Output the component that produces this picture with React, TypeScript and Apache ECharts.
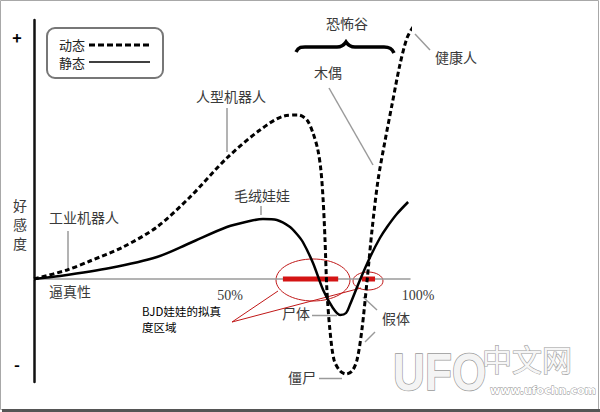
import React, { useEffect, useRef } from "react";
import * as echarts from "echarts";

// x: realism (%), y: affinity (arbitrary units)
const xTickValues = [0, 50, 100];
const xTickLabels = ["", "50%", "100%"];

const dynamicCurve: [number, number][] = [
  [0, 0], [8.8, 3.6], [14.9, 7.2], [23.7, 12.8], [32.7, 20.8], [41.5, 32.8],
  [51.3, 48.4], [60.1, 59.6], [66.5, 65.2], [70.3, 65.6], [72.6, 63.6],
  [74.2, 58.4], [75.5, 51.6], [76.3, 43.6], [76.9, 31.6], [77.4, 15.6],
  [77.9, -4.4], [78.7, -20.4], [79.8, -32.4], [81.4, -36.8], [83.0, -38],
  [84.6, -36.8], [85.9, -32.4], [87.2, -20.4], [88.6, -0.4], [89.9, 19.6],
  [91.5, 39.6], [93.4, 55.6], [95.2, 69.6], [97.3, 85.6], [99.2, 96.4], [100.8, 100.8],
];

const staticCurve: [number, number][] = [
  [0, 0], [6.9, 1.2], [20.2, 4.4], [32.7, 8.8], [41.5, 14.4], [51.3, 20.8],
  [57.4, 23.2], [60.9, 24], [64.6, 23.6], [68.1, 20.8], [69.9, 18], [71.5, 14.8],
  [74.2, 6.4], [76.9, -4.4], [79.5, -11.6], [81.4, -14.4], [83.0, -13.6],
  [84.0, -10.4], [86.7, -0.4], [89.4, 8.8], [92.0, 16.4], [93.9, 20.8],
  [96.5, 26], [99.5, 30.8],
];

const bjdRangeMain: [number, number][] = [[66.2, 0], [80.9, 0]];
const bjdRangeSmall: [number, number][] = [[87.2, 0], [90.7, 0]];

const seriesNames = ["动态", "静态"];

const Y_MIN = -41.2;
const Y_MAX = 103.6;

const CJK = '"Noto Sans CJK SC", "Noto Sans", sans-serif';
const TXT = "#3a3a3a";
const LEAD = "#9a9a9a";

function label(text: string, x: number, y: number, size = 14, extra: any = {}) {
  return {
    type: "text",
    x,
    y,
    style: {
      text,
      fill: TXT,
      font: `${size}px ${CJK}`,
      textAlign: "center",
      verticalAlign: "middle",
      ...extra,
    },
  };
}

function lead(x1: number, y1: number, x2: number, y2: number, color = LEAD, w = 1.5) {
  return {
    type: "line",
    shape: { x1, y1, x2, y2 },
    style: { stroke: color, lineWidth: w },
  };
}

export default function App() {
  const ref = useRef<HTMLDivElement>(null);

  useEffect(() => {
    echarts.graphic.registerShape(
      "brace",
      echarts.graphic.extendPath(
        "M0,10 C3,4 7,5 12,5 L41,5 C46,5 48,3 50,0 C52,3 54,5 59,5 L88,5 C93,5 96,6 98,11",
        {}
      )
    );
    const chart = echarts.init(ref.current!, null, { renderer: "svg" });

    const gridTop = 20;
    const gridBottom = 30;
    const plotH = 412 - gridTop - gridBottom;
    // shift the x axis (line + labels) up to y = 0
    const zeroOffset = -(plotH * (0 - Y_MIN)) / (Y_MAX - Y_MIN);

    const graphic: any[] = [
      // frame
      { type: "rect", shape: { x: 0.5, y: 0.5, width: 598, height: 409 }, style: { fill: "none", stroke: "#a8a8a8", lineWidth: 1 } },
      lead(2, 410.5, 600, 410.5, "#555", 3),
      // legend box
      { type: "rect", shape: { x: 47, y: 28, width: 116, height: 50, r: 8 }, style: { fill: "#fff", stroke: "#777", lineWidth: 2 } },
      label(seriesNames[0], 72, 44, 13, { fill: "#222" }),
      label(seriesNames[1], 72, 62, 13, { fill: "#222" }),
      { type: "line", shape: { x1: 89, y1: 45, x2: 150, y2: 45 }, style: { stroke: "#000", lineWidth: 3, lineDash: [6, 3] } },
      { type: "line", shape: { x1: 89, y1: 62, x2: 150, y2: 62 }, style: { stroke: "#000", lineWidth: 1.5 } },
      // axis marks
      label("+", 17, 37, 16, { fill: "#000", font: `bold 16px ${CJK}` }),
      label("-", 17, 364, 16, { fill: "#000", font: `bold 16px ${CJK}` }),
      label("好\n感\n度", 20, 224, 14, { lineHeight: 19 }),
      label("逼真性", 70, 291, 14),
      // annotations
      label("工业机器人", 84, 217, 14),
      lead(68, 231, 68, 270),
      label("人型机器人", 231, 96, 14),
      lead(227, 108, 227, 152),
      label("毛绒娃娃", 262, 195, 14),
      lead(261, 206, 261, 215),
      label("恐怖谷", 347, 23, 14),
      { type: "brace", x: 296, y: 42, style: { fill: "none", stroke: "#000", lineWidth: 3.5 } },
      label("木偶", 328, 72, 14),
      lead(329, 88, 373, 165),
      label("健康人", 456, 57, 14),
      lead(415, 34, 430, 50),
      label("尸体", 296, 313, 14),
      lead(312, 315.5, 337, 315.5),
      label("假体", 396, 318, 14),
      lead(363, 297, 377, 310),
      lead(365, 342, 375, 332),
      label("僵尸", 302, 377, 14),
      lead(319, 378.5, 342, 378.5),
      // BJD annotation
      label("BJD娃娃的拟真", 142, 311, 11.5, { fill: "#000", textAlign: "left" }),
      label("度区域", 142, 327, 11.5, { fill: "#000", textAlign: "left" }),
      { type: "ellipse", shape: { cx: 313, cy: 280, rx: 37, ry: 21 }, style: { fill: "none", stroke: "#c01818", lineWidth: 1 } },
      { type: "ellipse", shape: { cx: 368, cy: 281, rx: 15, ry: 9 }, style: { fill: "none", stroke: "#c01818", lineWidth: 1 } },
      lead(232, 322, 278, 291, "#c01818", 1),
      lead(232, 322, 361, 288, "#c01818", 1),
      // watermark
      {
        type: "text",
        x: 393,
        y: 372,
        scaleX: 0.85,
        style: {
          text: "UFO",
          font: `bold 52px "Liberation Sans", sans-serif`,
          fill: "#f4f4f4",
          stroke: "#9a9a9a",
          lineWidth: 1.5,
          verticalAlign: "middle",
          shadowColor: "rgba(0,0,0,0.35)",
          shadowBlur: 3,
          shadowOffsetY: 3,
        },
      },
      {
        type: "text",
        x: 482,
        y: 358,
        style: {
          text: "中文网",
          font: `30px ${CJK}`,
          fill: "#f6f6f6",
          stroke: "#a0a0a0",
          lineWidth: 1.2,
          verticalAlign: "middle",
        },
      },
      {
        type: "text",
        x: 490,
        y: 390,
        style: {
          text: "www.ufochn.com",
          font: `bold 11px "DejaVu Sans", sans-serif`,
          fill: "#ffffff",
          stroke: "#8a8a8a",
          lineWidth: 0.8,
          verticalAlign: "middle",
        },
      },
    ];

    chart.setOption({
      animation: false,
      backgroundColor: "#ffffff",
      grid: { left: 34, right: 190, top: gridTop, bottom: gridBottom, containLabel: false },
      xAxis: {
        type: "value",
        min: xTickValues[0],
        max: xTickValues[xTickValues.length - 1],
        interval: xTickValues[1] - xTickValues[0],
        offset: zeroOffset,
        axisLine: { show: true, onZero: false, lineStyle: { color: "#9a9a9a", width: 1.5 } },
        axisTick: { show: false },
        splitLine: { show: false },
        axisLabel: {
          showMinLabel: false,
          margin: 9,
          color: TXT,
          fontFamily: '"Liberation Serif", "DejaVu Serif", serif',
          fontSize: 14,
          padding: [0, 0, 0, 16],
          formatter: (v: number) => xTickLabels[xTickValues.indexOf(v)] ?? "",
        },
      },
      yAxis: {
        type: "value",
        min: Y_MIN,
        max: Y_MAX,
        axisLine: { show: true, onZero: false, lineStyle: { color: "#111", width: 2.5 } },
        axisTick: { show: false },
        axisLabel: { show: false },
        splitLine: { show: false },
      },
      series: [
        {
          name: "BJD-main",
          type: "line",
          data: bjdRangeMain,
          showSymbol: false,
          lineStyle: { color: "#d41414", width: 5 },
          z: 1,
        },
        {
          name: "BJD-small",
          type: "line",
          data: bjdRangeSmall,
          showSymbol: false,
          lineStyle: { color: "#d41414", width: 5 },
          z: 1,
        },
        {
          name: seriesNames[0],
          type: "line",
          data: dynamicCurve,
          smooth: 0.3,
          showSymbol: false,
          clip: false,
          lineStyle: { color: "#000", width: 3, type: [5, 3] },
          z: 3,
        },
        {
          name: seriesNames[1],
          type: "line",
          data: staticCurve,
          smooth: 0.3,
          showSymbol: false,
          clip: false,
          lineStyle: { color: "#000", width: 2.5 },
          z: 3,
        },
      ],
      graphic,
    });

    return () => chart.dispose();
  }, []);

  return (
    <div
      ref={ref}
      style={{ position: "fixed", left: 0, top: 0, width: 600, height: 412, background: "#fff" }}
    />
  );
}
